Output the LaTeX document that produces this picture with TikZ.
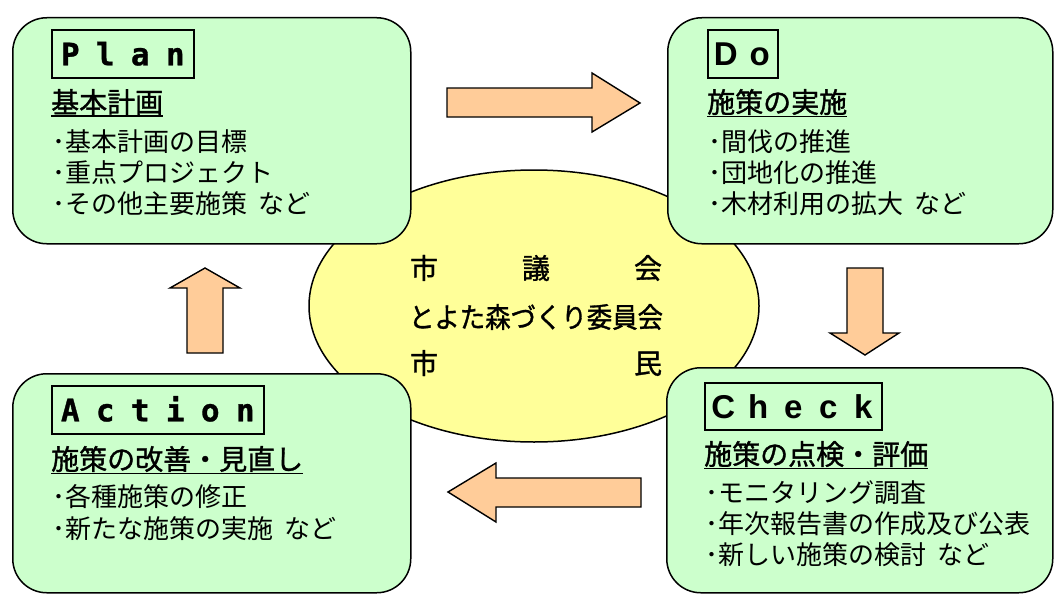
\documentclass[tikz,border=0pt]{standalone}
\usepackage{fontspec}
\usepackage{graphicx}
\usetikzlibrary{shapes.geometric}
\setmainfont{Noto Sans CJK JP}
\newfontfamily\jpmed{Noto Sans CJK JP}[FakeBold=1.2]
\newfontfamily\monob{DejaVu Sans Mono Bold}[FakeBold=1]
\newfontfamily\sansl{Liberation Sans Bold}
\definecolor{boxgreen}{HTML}{CCFFCC}
\definecolor{ellyellow}{HTML}{FFFF99}
\definecolor{arroworange}{HTML}{FFCC99}
\newcommand{\lt}[1]{\makebox[35pt]{#1}}
\newcommand{\ltd}[1]{\makebox[34pt]{#1}}
\begin{document}
\begin{tikzpicture}[x=1pt,y=-1pt,
  pdca/.style={draw=black, line width=1.5pt, fill=boxgreen, rounded corners=34pt, anchor=north west, inner sep=0pt},
  lblbox/.style={draw=black, line width=1.6pt, anchor=north west, inner xsep=1pt, inner ysep=0pt, minimum height=48pt},
  head/.style={anchor=west, inner sep=0pt, font=\jpmed\fontsize{28}{28}\selectfont},
  item/.style={anchor=west, inner sep=0pt, font=\fontsize{26}{26}\selectfont},
  ctr/.style={inner sep=0pt, font=\jpmed\fontsize{28}{28}\selectfont},
  blockarrow/.style={draw=black, line width=1.4pt, fill=arroworange, line join=miter},
  uline/.style={line width=1.3pt}
]
\useasboundingbox (0,0) rectangle (1054,594);

% central ellipse
\node[ellipse, draw=black, line width=1.5pt, fill=ellyellow, minimum width=450pt, minimum height=272pt, inner sep=0pt] (council) at (534,306) {};

% four boxes
\node[pdca, minimum width=398pt, minimum height=226pt] (plan) at (12,17) {};
\node[pdca, minimum width=385pt, minimum height=226pt] (do) at (667,17) {};
\node[pdca, minimum width=398pt, minimum height=219pt] (action) at (12,373) {};
\node[pdca, minimum width=386pt, minimum height=225pt] (check) at (666,367) {};

% labels
\node[lblbox, font=\monob\fontsize{31}{31}\selectfont, text height=23pt, text depth=0pt] (planlbl) at (51,29) {\lt{P}\lt{l}\lt{a}\lt{n}};
\node[lblbox, font=\sansl\fontsize{33}{33}\selectfont, text height=24pt, text depth=0pt] (dolbl) at (707,29) {\ltd{D}\ltd{o}};
\node[lblbox, font=\monob\fontsize{31}{31}\selectfont, text height=23pt, text depth=0pt] (actionlbl) at (51,385) {\lt{A}\lt{c}\lt{t}\lt{i}\lt{o}\lt{n}};
\node[lblbox, font=\sansl\fontsize{33}{33}\selectfont, text height=24pt, text depth=0pt, minimum height=47pt] (checklbl) at (704,382) {\lt{C}\lt{h}\lt{e}\lt{c}\lt{k}};

% headings
\node[head] (planh) at (51,102) {基本計画};
\draw[uline] ([yshift=-1pt]planh.south west) -- ([yshift=-1pt]planh.south east);
\node[head] (doh) at (707,102) {施策の実施};
\draw[uline] ([yshift=-1pt]doh.south west) -- ([yshift=-1pt]doh.south east);
\node[head] (actionh) at (51,459) {施策の改善・見直し};
\draw[uline] ([yshift=-1pt]actionh.south west) -- ([yshift=-1pt]actionh.south east);
\node[head] (checkh) at (704,454) {施策の点検・評価};
\draw[uline] ([yshift=-1pt]checkh.south west) -- ([yshift=-1pt]checkh.south east);

% items
\node[item] (p1) at (52,142) {･基本計画の目標};
\node[item] (p2) at (52,173) {･重点プロジェクト};
\node[item] (p3) at (52,204) {･その他主要施策\hspace{0.45em}など};
\node[item] (d1) at (708,142) {･間伐の推進};
\node[item] (d2) at (708,173) {･団地化の推進};
\node[item] (d3) at (708,204) {･木材利用の拡大\hspace{0.45em}など};
\node[item] (a1) at (52,497) {･各種施策の修正};
\node[item] (a2) at (52,529) {･新たな施策の実施\hspace{0.45em}など};
\node[item] (c1) at (705,493) {･モニタリング調査};
\node[item] (c2) at (705,524) {･年次報告書の作成及び公表};
\node[item] (c3) at (705,555) {･新しい施策の検討\hspace{0.45em}など};

% centre text
\node[ctr] (m1) at (536,268) {\makebox[252pt]{市\hfill 議\hfill 会}};
\node[ctr] (m2) at (536,317) {\resizebox{254pt}{\height}{とよた森づくり委員会}};
\node[ctr] (m3) at (536,363) {\makebox[252pt]{市\hfill 民}};

% block arrows
\draw[blockarrow] (447,88) -- (592,88) -- (592,73) -- (640,103) -- (592,132) -- (592,117) -- (447,117) -- cycle;
\draw[blockarrow] (847,268) -- (883,268) -- (883,333) -- (899,333) -- (865,355) -- (830,333) -- (847,333) -- cycle;
\draw[blockarrow] (641,478) -- (496,478) -- (496,463) -- (448,492) -- (496,522) -- (496,507) -- (641,507) -- cycle;
\draw[blockarrow] (187,353) -- (187,288) -- (170,288) -- (205,268) -- (240,288) -- (223,288) -- (223,353) -- cycle;
\end{tikzpicture}
\end{document}
